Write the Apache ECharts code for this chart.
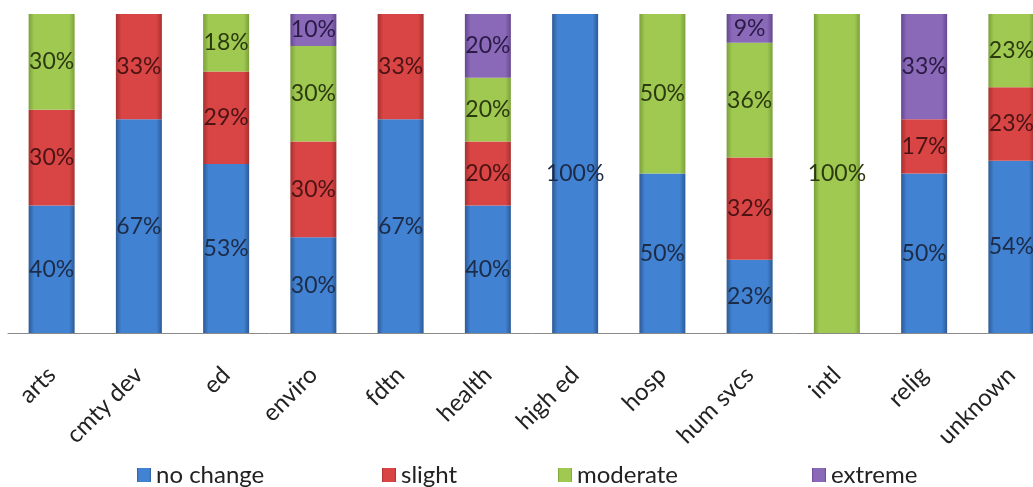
<!DOCTYPE html>
<html>
<head>
<meta charset="utf-8">
<script src="https://cdn.jsdelivr.net/npm/echarts@6/dist/echarts.min.js"></script>
<style>
  html, body { margin: 0; padding: 0; background: #fff; overflow: hidden; }
  /* the plot runs past the right edge of the picture, so the div is wider than the window */
  #chart { width: 1055px; height: 487px; }
</style>
</head>
<body>
<div id="chart"></div>
<script>
// categories and percent shares
var categories = ['arts', 'cmty dev', 'ed', 'enviro', 'fdtn', 'health', 'high ed', 'hosp', 'hum svcs', 'intl', 'relig', 'unknown'];
var noChange = [40, 67, 53, 30, 67, 40, 100, 50, 23, 0, 50, 54];
var slight   = [30, 33, 29, 30, 33, 20, 0, 0, 32, 0, 17, 23];
var moderate = [30, 0, 18, 30, 0, 20, 0, 50, 36, 100, 0, 23];
var extreme  = [0, 0, 0, 10, 0, 20, 0, 0, 9, 0, 33, 0];

var font = 'Lato, "Open Sans", sans-serif';

function grad(edge, mid) {
  return new echarts.graphic.LinearGradient(0, 0, 1, 0, [
    { offset: 0, color: edge },
    { offset: 0.12, color: mid },
    { offset: 0.88, color: mid },
    { offset: 1, color: edge }
  ]);
}

function makeSeries(name, data, edge, mid, labelColor) {
  return {
    name: name,
    type: 'bar',
    stack: 'all',
    barWidth: 46,
    data: data,
    itemStyle: {
      color: grad(edge, mid),
      borderWidth: 0
    },
    label: {
      show: true,
      position: 'inside',
      color: labelColor,
      fontFamily: font,
      fontSize: 23,
      formatter: function (p) { return p.value ? p.value + '%' : ''; }
    }
  };
}

var chart = echarts.init(document.getElementById('chart'));
chart.setOption({
  animation: false,
  grid: { left: 8, right: 0, top: 14, bottom: 154 },
  legend: [
    { data: ['no change'], left: 132, top: 458 },
    { data: ['slight'], left: 377, top: 458 },
    { data: ['moderate'], left: 553, top: 458 },
    { data: ['extreme'], left: 807, top: 458 }
  ].map(function (l) {
    l.itemWidth = 14;
    l.itemHeight = 14;
    l.icon = 'rect';
    l.textStyle = { fontFamily: font, fontSize: 24, color: '#222' };
    return l;
  }),
  xAxis: {
    type: 'category',
    data: categories,
    axisLine: { lineStyle: { color: '#8a8a8a', width: 1 } },
    axisTick: { show: false },
    axisLabel: {
      rotate: 45,
      margin: 38,
      interval: 0,
      color: '#222',
      fontFamily: font,
      fontSize: 24
    }
  },
  yAxis: {
    type: 'value',
    min: 0,
    max: 100,
    show: false
  },
  series: [
    makeSeries('no change', noChange, '#2c5a96', '#4282d2', '#1c2c48'),
    makeSeries('slight', slight, '#a83030', '#d94444', '#4a1414'),
    makeSeries('moderate', moderate, '#7ba03a', '#a0c952', '#2c3a10'),
    makeSeries('extreme', extreme, '#654790', '#8a69b8', '#2a1a45')
  ]
});
</script>
</body>
</html>
